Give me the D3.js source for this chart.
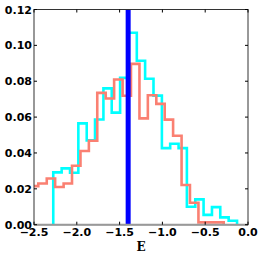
<!DOCTYPE html>
<html>
<head>
<meta charset="utf-8">
<script src="https://cdn.jsdelivr.net/npm/d3@7"></script>
<style>
  body { margin: 0; background: #fff; }
  svg { display: block; }
</style>
</head>
<body>
<script>
// bin left edges + heights
const cyanEdges = [-2.275, -2.177, -2.079, -1.982, -1.884, -1.787, -1.689, -1.592, -1.494, -1.397, -1.299,
    -1.202, -1.104, -1.006, -0.909, -0.811, -0.714, -0.616, -0.519, -0.421, -0.324, -0.226, -0.128];
const cyanValues = [0.0292, 0.0314, 0.029, 0.0565, 0.047, 0.0587, 0.076, 0.0625, 0.0819, 0.107, 0.0914,
    0.0814, 0.072, 0.0427, 0.0451, 0.0427, 0.0100, 0.0141, 0.0055, 0.0098, 0.0041, 0.0022];

const redEdges = [-2.548, -2.450, -2.351, -2.253, -2.154, -2.056, -1.957, -1.859, -1.761, -1.662, -1.564, -1.465,
    -1.367, -1.268, -1.170, -1.071, -0.973, -0.875, -0.776, -0.678, -0.579, -0.481, -0.382, -0.284];
const redValues = [0.0215, 0.023, 0.0258, 0.021, 0.023, 0.0329, 0.0411, 0.0468, 0.0735, 0.0704, 0.081, 0.0719,
    0.0897, 0.0593, 0.0722, 0.0674, 0.0586, 0.0496, 0.0221, 0.0122, 0.0013, 0.0013, 0.0013];

const markerE = -1.4;

const xTicks = [-2.5, -2.0, -1.5, -1.0, -0.5, 0.0];
const yTicks = [0.00, 0.02, 0.04, 0.06, 0.08, 0.10, 0.12];

const width = 263;
const height = 258;
const margin = { top: 9.5, right: 15, bottom: 33.3, left: 34 };

const svg = d3.select("body")
    .append("svg")
    .attr("width", width)
    .attr("height", height);

const x = d3.scaleLinear().domain([-2.5, 0.0]).range([margin.left, width - margin.right]);
const y = d3.scaleLinear().domain([0, 0.12]).range([height - margin.bottom, margin.top]);

svg.append("clipPath").attr("id", "plot")
    .append("rect")
    .attr("x", x(-2.5)).attr("y", y(0.12))
    .attr("width", x(0) - x(-2.5)).attr("height", y(0) - y(0.12));

// step outline like histtype='step'
function stepPoints(edges, values) {
    const pts = [[edges[0], 0]];
    values.forEach((v, i) => {
        pts.push([edges[i], v]);
        pts.push([edges[i + 1], v]);
    });
    pts.push([edges[edges.length - 1], 0]);
    return pts;
}

const line = d3.line().x(d => x(d[0])).y(d => y(d[1]));

const g = svg.append("g").attr("clip-path", "url(#plot)");

g.append("path")
    .attr("d", line(stepPoints(cyanEdges, cyanValues)))
    .attr("fill", "none")
    .attr("stroke", "#00ffff")
    .attr("stroke-width", 2.6);

g.append("path")
    .attr("d", line(stepPoints(redEdges, redValues)))
    .attr("fill", "none")
    .attr("stroke", "#fa8072")
    .attr("stroke-width", 2.6);

g.append("line")
    .attr("x1", x(markerE)).attr("x2", x(markerE))
    .attr("y1", y(0)).attr("y2", y(0.12))
    .attr("stroke", "#0000ff")
    .attr("stroke-width", 5);

// frame
const x0 = x(-2.5), x1 = x(0), y0 = y(0), y1 = y(0.12);
svg.append("rect")
    .attr("x", x0).attr("y", y1)
    .attr("width", x1 - x0).attr("height", y0 - y1)
    .attr("fill", "none")
    .attr("stroke", "#333")
    .attr("stroke-width", 1);
svg.append("line")
    .attr("x1", x0).attr("x2", x1).attr("y1", y0).attr("y2", y0)
    .attr("stroke", "#999").attr("stroke-width", 2);

// ticks, inward on all four sides
const tickLen = 3;
const fmtX = d3.format(".1f");
const fmtY = d3.format(".2f");

xTicks.forEach(t => {
    svg.append("line").attr("x1", x(t)).attr("x2", x(t)).attr("y1", y0).attr("y2", y0 - tickLen)
        .attr("stroke", "#000").attr("stroke-width", 1);
    svg.append("line").attr("x1", x(t)).attr("x2", x(t)).attr("y1", y1).attr("y2", y1 + tickLen)
        .attr("stroke", "#000").attr("stroke-width", 1);
    svg.append("text")
        .attr("x", x(t)).attr("y", y0 + 11)
        .attr("text-anchor", "middle")
        .attr("font-family", "DejaVu Sans")
        .attr("font-weight", "bold")
        .attr("font-size", 11)
        .text(fmtX(t).replace("-", "\u2212"));
});

yTicks.forEach(t => {
    svg.append("line").attr("x1", x0).attr("x2", x0 + tickLen).attr("y1", y(t)).attr("y2", y(t))
        .attr("stroke", "#000").attr("stroke-width", 1);
    svg.append("line").attr("x1", x1).attr("x2", x1 - tickLen).attr("y1", y(t)).attr("y2", y(t))
        .attr("stroke", "#000").attr("stroke-width", 1);
    svg.append("text")
        .attr("x", x0 - 2).attr("y", y(t) + 4)
        .attr("text-anchor", "end")
        .attr("font-family", "DejaVu Sans")
        .attr("font-weight", "bold")
        .attr("font-size", 11)
        .text(fmtY(t));
});

svg.append("text")
    .attr("x", (x0 + x1) / 2).attr("y", 251)
    .attr("text-anchor", "middle")
    .attr("font-family", "DejaVu Serif")
    .attr("font-weight", "bold")
    .attr("font-size", 12)
    .text("E");
</script>
</body>
</html>
